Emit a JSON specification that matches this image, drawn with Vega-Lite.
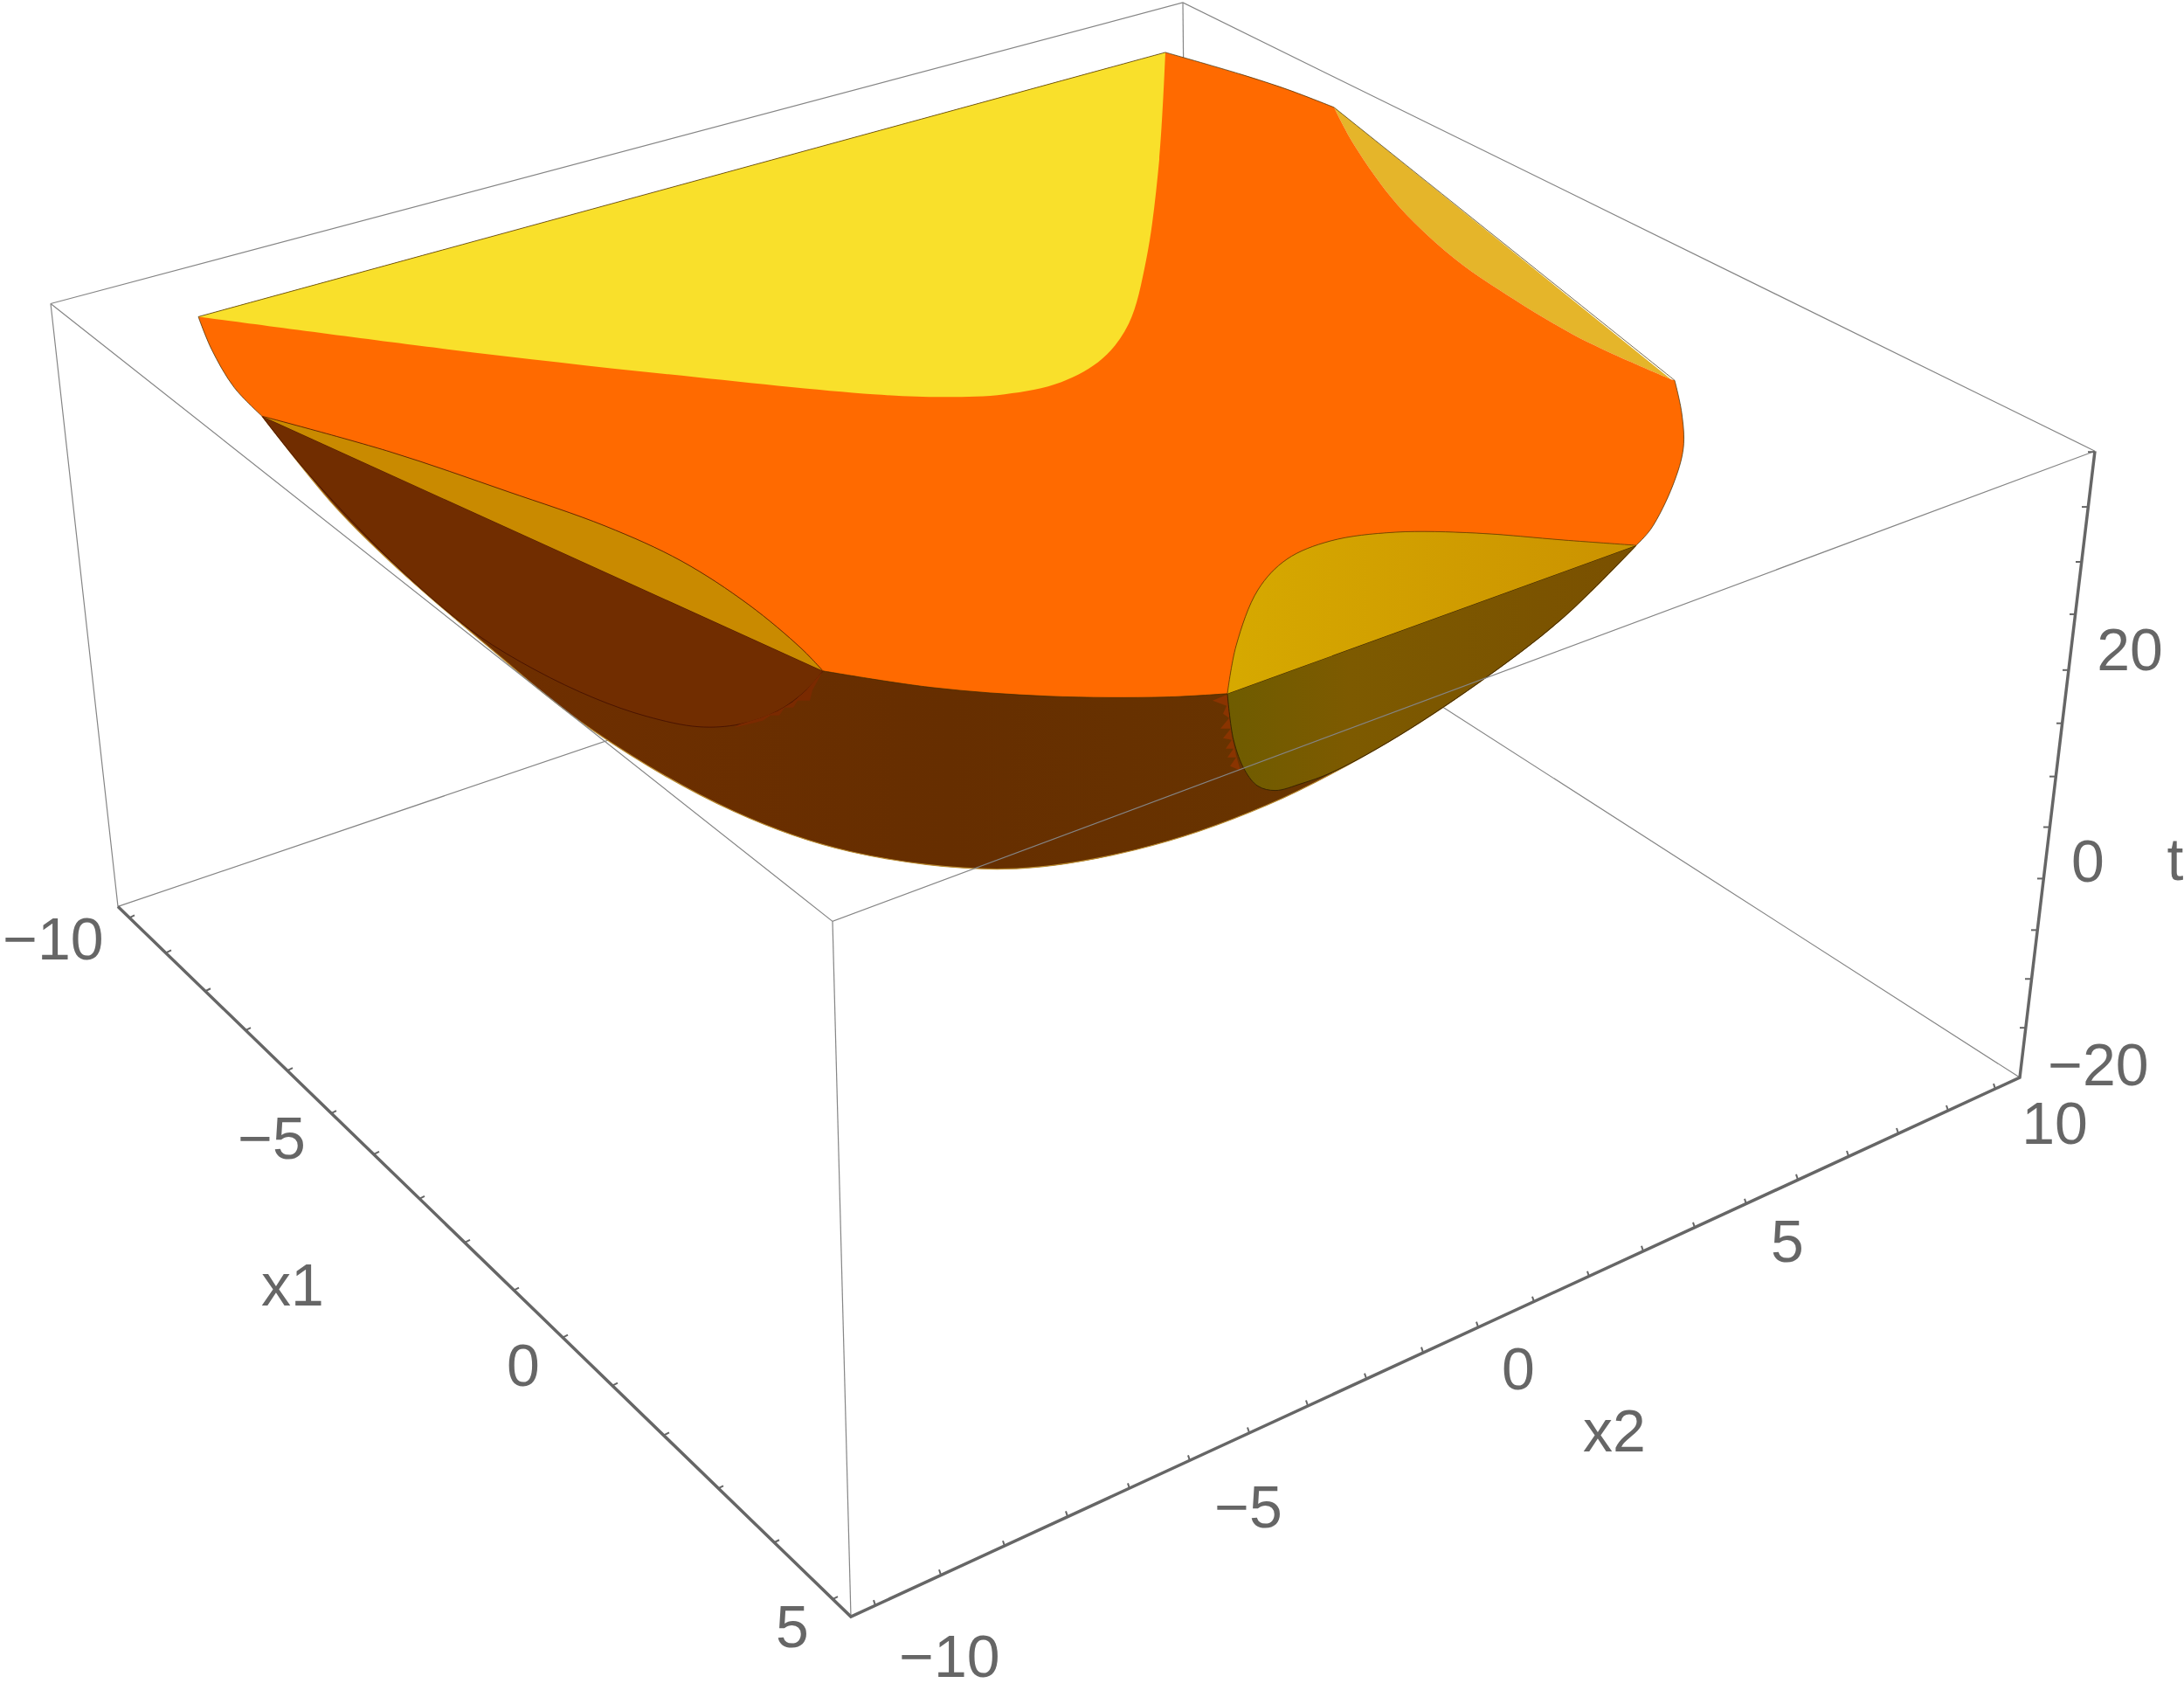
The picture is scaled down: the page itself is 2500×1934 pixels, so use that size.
{
"$schema":"https://vega.github.io/schema/vega-lite/v6.json",
"width":2500,"height":1934,"padding":0,
"autosize":{"type":"fit","contains":"padding"},
"background":"white",
"config":{"view":{"stroke":null}},
"datasets":{
"backFrame":[
{"e":"a","n":1,"x":58,"y":345},{"e":"a","n":2,"x":1354,"y":0},{"e":"a","n":3,"x":2398,"y":514},
{"e":"b","n":1,"x":58,"y":345},{"e":"b","n":2,"x":135,"y":1036},{"e":"b","n":3,"x":1360,"y":620},{"e":"b","n":4,"x":2312,"y":1232},
{"e":"c","n":1,"x":1354,"y":0},{"e":"c","n":2,"x":1360,"y":620}
],
"frontFrame":[
{"e":"a","n":1,"x":58,"y":345},{"e":"a","n":2,"x":953,"y":1053},{"e":"a","n":3,"x":2398,"y":514},
{"e":"b","n":1,"x":953,"y":1053},{"e":"b","n":2,"x":974,"y":1850}
],
"axes":[
{"n":1,"x":135,"y":1036},{"n":2,"x":974,"y":1850},{"n":3,"x":2312,"y":1232},{"n":4,"x":2398,"y":514}
],
"bowl":[
{"n":1,"x":300,"y":474},{"n":2,"x":383,"y":577},{"n":3,"x":447,"y":641},{"n":4,"x":548,"y":729},{"n":5,"x":680,"y":835},{"n":6,"x":840,"y":927},{"n":7,"x":973,"y":973},{"n":8,"x":1150,"y":993},{"n":9,"x":1300,"y":971},{"n":10,"x":1450,"y":920},{"n":11,"x":1590,"y":847},{"n":12,"x":1692,"y":780},{"n":13,"x":1787,"y":707},{"n":14,"x":1873,"y":622}
],
"leftLobe":[
{"n":1,"x":300,"y":474},{"n":2,"x":942,"y":766},{"n":3,"x":942,"y":766},{"n":4,"x":923,"y":788},{"n":5,"x":890,"y":812},{"n":6,"x":847,"y":827},{"n":7,"x":800,"y":830},{"n":8,"x":740,"y":818},{"n":9,"x":680,"y":797},{"n":10,"x":613,"y":765},{"n":11,"x":547,"y":725},{"n":12,"x":480,"y":670},{"n":13,"x":420,"y":612},{"n":14,"x":347,"y":533},{"n":15,"x":300,"y":474}
],
"leftJag":[
{"n":1,"x":942,"y":766},{"n":2,"x":930,"y":788},{"n":3,"x":927,"y":800},{"n":4,"x":913,"y":800},{"n":5,"x":908,"y":808},{"n":6,"x":898,"y":808},{"n":7,"x":892,"y":817},{"n":8,"x":882,"y":817},{"n":9,"x":873,"y":823},{"n":10,"x":857,"y":827},{"n":11,"x":840,"y":831},{"n":12,"x":847,"y":827},{"n":13,"x":870,"y":820},{"n":14,"x":890,"y":812},{"n":15,"x":907,"y":802},{"n":16,"x":923,"y":788}
],
"rightJag":[
{"n":1,"x":1405,"y":793},{"n":2,"x":1388,"y":800},{"n":3,"x":1404,"y":806},{"n":4,"x":1400,"y":815},{"n":5,"x":1407,"y":820},{"n":6,"x":1397,"y":832},{"n":7,"x":1409,"y":832},{"n":8,"x":1400,"y":843},{"n":9,"x":1410,"y":845},{"n":10,"x":1403,"y":855},{"n":11,"x":1412,"y":855},{"n":12,"x":1405,"y":865},{"n":13,"x":1415,"y":865},{"n":14,"x":1408,"y":875},{"n":15,"x":1420,"y":880},{"n":16,"x":1415,"y":863},{"n":17,"x":1410,"y":840},{"n":18,"x":1407,"y":813}
],
"olive":[
{"n":1,"x":1405,"y":792},{"n":2,"x":1873,"y":622},{"n":3,"x":1873,"y":622},{"n":4,"x":1787,"y":707},{"n":5,"x":1692,"y":780},{"n":6,"x":1590,"y":847},{"n":7,"x":1523,"y":883},{"n":8,"x":1490,"y":895},{"n":9,"x":1460,"y":903},{"n":10,"x":1440,"y":898},{"n":11,"x":1425,"y":880},{"n":12,"x":1412,"y":845},{"n":13,"x":1405,"y":792}
],
"goldLeft":[
{"n":1,"x":300,"y":474},{"n":2,"x":447,"y":515},{"n":3,"x":580,"y":560},{"n":4,"x":693,"y":600},{"n":5,"x":780,"y":640},{"n":6,"x":857,"y":690},{"n":7,"x":917,"y":740},{"n":8,"x":942,"y":766}
],
"goldRight":[
{"n":1,"x":1405,"y":792},{"n":2,"x":1415,"y":737},{"n":3,"x":1440,"y":673},{"n":4,"x":1473,"y":638},{"n":5,"x":1523,"y":617},{"n":6,"x":1597,"y":607},{"n":7,"x":1690,"y":608},{"n":8,"x":1790,"y":616},{"n":9,"x":1873,"y":622}
],
"goldBack":[
{"n":1,"x":1527,"y":120},{"n":2,"x":1550,"y":163},{"n":3,"x":1600,"y":232},{"n":4,"x":1667,"y":295},{"n":5,"x":1733,"y":340},{"n":6,"x":1800,"y":380},{"n":7,"x":1867,"y":412},{"n":8,"x":1913,"y":432}
],
"orange":[
{"n":1,"x":227,"y":360},{"n":2,"x":242,"y":397},{"n":3,"x":268,"y":441},{"n":4,"x":300,"y":474},{"n":5,"x":300,"y":474},{"n":6,"x":447,"y":515},{"n":7,"x":580,"y":560},{"n":8,"x":693,"y":600},{"n":9,"x":780,"y":640},{"n":10,"x":857,"y":690},{"n":11,"x":917,"y":740},{"n":12,"x":942,"y":766},{"n":13,"x":942,"y":766},{"n":14,"x":1067,"y":785},{"n":15,"x":1200,"y":795},{"n":16,"x":1333,"y":796},{"n":17,"x":1405,"y":792},{"n":18,"x":1405,"y":792},{"n":19,"x":1415,"y":737},{"n":20,"x":1440,"y":673},{"n":21,"x":1473,"y":638},{"n":22,"x":1523,"y":617},{"n":23,"x":1597,"y":607},{"n":24,"x":1690,"y":608},{"n":25,"x":1790,"y":616},{"n":26,"x":1873,"y":622},{"n":27,"x":1873,"y":622},{"n":28,"x":1890,"y":603},{"n":29,"x":1915,"y":553},{"n":30,"x":1927,"y":510},{"n":31,"x":1925,"y":470},{"n":32,"x":1917,"y":433},{"n":33,"x":1917,"y":433},{"n":34,"x":1913,"y":432},{"n":35,"x":1913,"y":432},{"n":36,"x":1867,"y":412},{"n":37,"x":1800,"y":380},{"n":38,"x":1733,"y":340},{"n":39,"x":1667,"y":295},{"n":40,"x":1600,"y":232},{"n":41,"x":1550,"y":163},{"n":42,"x":1527,"y":120},{"n":43,"x":1527,"y":120},{"n":44,"x":1475,"y":100},{"n":45,"x":1420,"y":82},{"n":46,"x":1334,"y":57}
],
"yellow":[
{"n":1,"x":227,"y":360},{"n":2,"x":1334,"y":57},{"n":3,"x":1334,"y":57},{"n":4,"x":1327,"y":180},{"n":5,"x":1312,"y":295},{"n":6,"x":1292,"y":368},{"n":7,"x":1262,"y":408},{"n":8,"x":1215,"y":435},{"n":9,"x":1150,"y":449},{"n":10,"x":1083,"y":452},{"n":11,"x":1000,"y":449},{"n":12,"x":765,"y":426},{"n":13,"x":510,"y":397},{"n":14,"x":227,"y":360}
],
"rim":[
{"e":"a","n":1,"x":227,"y":360},{"e":"a","n":2,"x":1334,"y":57},{"e":"a","n":3,"x":1334,"y":57},{"e":"a","n":4,"x":1420,"y":82},{"e":"a","n":5,"x":1475,"y":100},{"e":"a","n":6,"x":1527,"y":120},{"e":"a","n":7,"x":1527,"y":120},{"e":"a","n":8,"x":1917,"y":433},{"e":"a","n":9,"x":1917,"y":433},{"e":"a","n":10,"x":1925,"y":470},{"e":"a","n":11,"x":1927,"y":510},{"e":"a","n":12,"x":1915,"y":553},{"e":"a","n":13,"x":1890,"y":603},{"e":"a","n":14,"x":1873,"y":622},
{"e":"b","n":1,"x":227,"y":360},{"e":"b","n":2,"x":242,"y":397},{"e":"b","n":3,"x":268,"y":441},{"e":"b","n":4,"x":300,"y":474},
{"e":"c","n":1,"x":942,"y":766},{"e":"c","n":2,"x":1067,"y":785},{"e":"c","n":3,"x":1200,"y":795},{"e":"c","n":4,"x":1333,"y":796},{"e":"c","n":5,"x":1405,"y":792}
],
"ticks":[
{"x":148,"y":1049,"x2":154,"y2":1046},{"x":190,"y":1089,"x2":196,"y2":1086},{"x":235,"y":1133,"x2":241,"y2":1130},{"x":281,"y":1178,"x2":287,"y2":1175},{"x":329,"y":1224,"x2":335,"y2":1221},{"x":379,"y":1273,"x2":385,"y2":1270},{"x":428,"y":1320,"x2":434,"y2":1317},{"x":480,"y":1371,"x2":486,"y2":1368},{"x":532,"y":1421,"x2":538,"y2":1418},{"x":588,"y":1476,"x2":594,"y2":1473},{"x":644,"y":1530,"x2":650,"y2":1527},{"x":701,"y":1585,"x2":707,"y2":1582},{"x":760,"y":1642,"x2":766,"y2":1639},{"x":822,"y":1703,"x2":828,"y2":1700},{"x":886,"y":1765,"x2":892,"y2":1762},{"x":953,"y":1830,"x2":959,"y2":1827},
{"x":1002,"y":1837,"x2":1000,"y2":1831},{"x":1077,"y":1802,"x2":1075,"y2":1796},{"x":1150,"y":1769,"x2":1148,"y2":1763},{"x":1222,"y":1735,"x2":1220,"y2":1729},{"x":1293,"y":1703,"x2":1291,"y2":1697},{"x":1362,"y":1671,"x2":1360,"y2":1665},{"x":1430,"y":1639,"x2":1428,"y2":1633},{"x":1497,"y":1608,"x2":1495,"y2":1602},{"x":1564,"y":1577,"x2":1562,"y2":1571},{"x":1629,"y":1547,"x2":1627,"y2":1541},{"x":1692,"y":1518,"x2":1690,"y2":1512},{"x":1756,"y":1489,"x2":1754,"y2":1483},{"x":1819,"y":1460,"x2":1817,"y2":1454},{"x":1881,"y":1431,"x2":1879,"y2":1425},{"x":1940,"y":1404,"x2":1938,"y2":1398},{"x":1999,"y":1377,"x2":1997,"y2":1371},{"x":2058,"y":1349,"x2":2056,"y2":1343},{"x":2116,"y":1322,"x2":2114,"y2":1316},{"x":2173,"y":1296,"x2":2171,"y2":1290},{"x":2230,"y":1270,"x2":2228,"y2":1264},{"x":2284,"y":1245,"x2":2282,"y2":1239},
{"x":2397,"y":515,"x2":2390,"y2":515},{"x":2390,"y":578,"x2":2383,"y2":578},{"x":2383,"y":641,"x2":2376,"y2":641},{"x":2376,"y":701,"x2":2369,"y2":701},{"x":2368,"y":765,"x2":2361,"y2":765},{"x":2361,"y":826,"x2":2354,"y2":826},{"x":2353,"y":887,"x2":2346,"y2":887},{"x":2346,"y":945,"x2":2339,"y2":945},{"x":2339,"y":1004,"x2":2332,"y2":1004},{"x":2332,"y":1063,"x2":2325,"y2":1063},{"x":2325,"y":1119,"x2":2318,"y2":1119},{"x":2319,"y":1175,"x2":2312,"y2":1175}
],
"labels":[
{"x":61,"y":1097,"t":"−10"},{"x":311,"y":1325,"t":"−5"},{"x":335,"y":1493,"t":"x1"},{"x":599,"y":1585,"t":"0"},{"x":907,"y":1885,"t":"5"},
{"x":1087,"y":1919,"t":"−10"},{"x":1429,"y":1748,"t":"−5"},{"x":1738,"y":1589,"t":"0"},{"x":1848,"y":1661,"t":"x2"},{"x":2046,"y":1443,"t":"5"},{"x":2352,"y":1308,"t":"10"},
{"x":2402,"y":1241,"t":"−20"},{"x":2438,"y":765,"t":"20"},{"x":2390,"y":1008,"t":"0"},{"x":2490,"y":1006,"t":"t"}
]
},
"encoding":{
"x":{"field":"x","type":"quantitative","axis":null,"scale":{"domain":[0,2500],"nice":false,"zero":false}},
"y":{"field":"y","type":"quantitative","axis":null,"scale":{"domain":[1934,0],"nice":false,"zero":false}}
},
"layer":[
{"data":{"name":"backFrame"},"mark":{"type":"line","stroke":"#858585","strokeWidth":1.2},"encoding":{"detail":{"field":"e"},"order":{"field":"n"}}},
{"data":{"name":"goldBack"},"mark":{"type":"line","interpolate":"catmull-rom","fill":"#E5B52A","strokeWidth":0,"strokeOpacity":0},"encoding":{"order":{"field":"n"}}},
{"data":{"name":"bowl"},"mark":{"type":"line","interpolate":"catmull-rom","fill":{"x1":0,"y1":0,"x2":1,"y2":0,"gradient":"linear","stops":[{"offset":0,"color":"#732F00"},{"offset":0.5,"color":"#662E00"},{"offset":1,"color":"#6A3A00"}]},"stroke":"#b98a30","strokeWidth":1.2},"encoding":{"order":{"field":"n"}}},
{"data":{"name":"leftLobe"},"mark":{"type":"line","interpolate":"catmull-rom","fill":"#712D00","stroke":"#4a1400","strokeWidth":1},"encoding":{"order":{"field":"n"}}},
{"data":{"name":"leftJag"},"mark":{"type":"line","fill":"#7A2A00","strokeWidth":0,"strokeOpacity":0},"encoding":{"order":{"field":"n"}}},
{"data":{"name":"rightJag"},"mark":{"type":"line","fill":"#8A3400","strokeWidth":0,"strokeOpacity":0},"encoding":{"order":{"field":"n"}}},
{"data":{"name":"olive"},"mark":{"type":"line","interpolate":"catmull-rom","fill":{"x1":0,"y1":0,"x2":1,"y2":0,"gradient":"linear","stops":[{"offset":0,"color":"#6F5C00"},{"offset":0.3,"color":"#7D5A00"},{"offset":1,"color":"#7A5000"}]},"stroke":"#3a2400","strokeWidth":1},"encoding":{"order":{"field":"n"}}},
{"data":{"name":"goldLeft"},"mark":{"type":"line","interpolate":"catmull-rom","fill":"#C98A00","strokeWidth":0,"strokeOpacity":0},"encoding":{"order":{"field":"n"}}},
{"data":{"name":"goldRight"},"mark":{"type":"line","interpolate":"catmull-rom","fill":{"x1":0,"y1":0,"x2":1,"y2":0,"gradient":"linear","stops":[{"offset":0,"color":"#D6A900"},{"offset":1,"color":"#CB9200"}]},"strokeWidth":0,"strokeOpacity":0},"encoding":{"order":{"field":"n"}}},
{"data":{"name":"orange"},"mark":{"type":"line","interpolate":"catmull-rom","fill":"#FF6A00","strokeWidth":0,"strokeOpacity":0},"encoding":{"order":{"field":"n"}}},
{"data":{"name":"yellow"},"mark":{"type":"line","interpolate":"catmull-rom","fill":"#F9E02B","strokeWidth":0,"strokeOpacity":0},"encoding":{"order":{"field":"n"}}},
{"data":{"name":"goldLeft"},"mark":{"type":"line","interpolate":"catmull-rom","stroke":"#6a2e00","strokeWidth":1},"encoding":{"order":{"field":"n"}}},
{"data":{"name":"goldRight"},"mark":{"type":"line","interpolate":"catmull-rom","stroke":"#7a4a00","strokeWidth":1},"encoding":{"order":{"field":"n"}}},
{"data":{"name":"rim"},"mark":{"type":"line","interpolate":"catmull-rom","stroke":"#3a2a00","strokeWidth":1,"strokeOpacity":0.7},"encoding":{"detail":{"field":"e"},"order":{"field":"n"}}},
{"data":{"name":"frontFrame"},"mark":{"type":"line","stroke":"#858585","strokeWidth":1.2},"encoding":{"detail":{"field":"e"},"order":{"field":"n"}}},
{"data":{"name":"axes"},"mark":{"type":"line","stroke":"#666666","strokeWidth":3.5},"encoding":{"order":{"field":"n"}}},
{"data":{"name":"ticks"},"mark":{"type":"rule","stroke":"#666666","strokeWidth":2},"encoding":{"x2":{"field":"x2"},"y2":{"field":"y2"}}},
{"data":{"name":"labels"},"mark":{"type":"text","font":"Liberation Sans","fontSize":68,"fill":"#666666","align":"center","baseline":"alphabetic"},"encoding":{"text":{"field":"t"}}}
]
}
